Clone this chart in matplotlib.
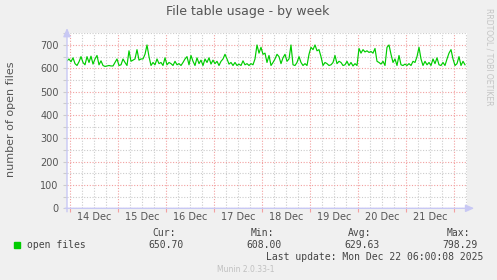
# Munin style "File table usage - by week" graph, rebuilt with matplotlib.
import matplotlib
matplotlib.use("Agg")
import matplotlib.pyplot as plt
import matplotlib.dates as mdates
from matplotlib.ticker import MultipleLocator, NullFormatter
import pandas as pd

W, H = 497, 280

# Hourly samples (first sample 13 Dec 22:30)
open_files = [
    632, 640, 628, 645, 620, 612, 628, 650, 625, 615, 650, 625, 652, 618, 640, 655,
    615, 632, 612, 608, 610, 612, 610, 610, 625, 640, 612, 615, 640, 625, 612, 675,
    630, 635, 640, 680, 635, 640, 640, 660, 700, 650, 612, 625, 615, 640, 620, 625,
    612, 645, 615, 625,
    620, 612, 630, 615, 620, 612, 625, 640, 650, 615, 655, 630, 612, 645, 620, 635,
    612, 640, 625, 645, 618, 635, 620, 630, 612, 630, 640, 660, 640, 618, 625, 612,
    625, 612, 618, 612, 632, 615, 620, 612, 620, 615, 640, 700, 665, 690, 660, 665,
    625, 655,
    612, 625, 640, 660, 650, 620, 645, 660, 630, 640, 700, 615, 612, 625, 650, 625,
    612, 620, 612, 660, 690, 680, 700, 675, 680, 650, 612, 625, 620, 612, 615, 625,
    655, 620, 630, 625, 612, 615, 630, 612, 625, 610, 620, 612, 685, 665, 680, 670,
    675, 668,
    672, 665, 685, 630, 625, 618, 630, 612, 690, 700, 660, 625, 640, 612, 655, 615,
    612, 618, 612, 620, 612, 630, 625, 650, 690, 640, 612, 630, 615, 625, 612, 640,
    620, 645, 615, 612, 625, 612, 640, 665, 680, 640, 612, 620, 650, 612, 630, 615,
]
times = pd.date_range("2025-12-13 22:30", periods=len(open_files), freq="1h")

stat_labels = ["Cur:", "Min:", "Avg:", "Max:"]
stat_values = ["650.70", "608.00", "629.63", "798.29"]

BG = "#F0F0F0"
TXT = "#555555"
MAJOR = "#F2A0A0"
MINOR = "#CCCCCC"
AXIS = "#C8C8F4"
GREEN = "#00CC00"


def fx(px):
    return px / W


def fy(py):
    return 1 - py / H


fig = plt.figure(figsize=(W / 100, H / 100), dpi=100, facecolor=BG)
ax = fig.add_axes([fx(67), fy(208.3), 400 / W, 175 / H], facecolor="white")

ax.plot(times, open_files, color=GREEN, lw=0.85, zorder=5)

ax.set_xlim(pd.Timestamp("2025-12-13 22:30"), pd.Timestamp("2025-12-22 06:30"))
ax.set_ylim(0, 750)

# grid: red at day / 100, grey at 6h / 50
ax.xaxis.set_major_locator(mdates.DayLocator())
ax.xaxis.set_minor_locator(mdates.HourLocator(byhour=[6, 12, 18]))
ax.xaxis.set_major_formatter(NullFormatter())
ax.yaxis.set_major_locator(MultipleLocator(100))
ax.yaxis.set_minor_locator(MultipleLocator(50))
ax.grid(which="minor", color=MINOR, lw=0.8, ls=(0, (1, 1.5)))
ax.grid(which="major", color=MAJOR, lw=0.8, ls=(0, (1, 1.5)))
ax.set_axisbelow(True)

ax.tick_params(axis="x", which="major", length=3, color=MAJOR, width=0.8)
ax.tick_params(axis="x", which="minor", length=0)
ax.tick_params(axis="y", which="both", length=3, color=MINOR, width=0.8,
               labelsize=7, labelcolor=TXT, pad=3)

# day labels centred at noon
sec = ax.secondary_xaxis("bottom")
sec.xaxis.set_major_locator(mdates.HourLocator(byhour=[12]))
sec.xaxis.set_major_formatter(mdates.DateFormatter("%-d %b"))
sec.tick_params(length=0, labelsize=7, labelcolor=TXT, pad=3)

for s in ax.spines.values():
    s.set_visible(False)
sec.spines["bottom"].set_visible(False)

# axis lines with arrow heads
ax.annotate("", xy=(1.018, 0), xytext=(-0.005, 0), xycoords="axes fraction",
            arrowprops=dict(arrowstyle="-|>,head_length=0.5,head_width=0.22",
                            color=AXIS, lw=1.0, shrinkA=0, shrinkB=0),
            annotation_clip=False, zorder=6)
ax.annotate("", xy=(0, 1.03), xytext=(0, -0.02), xycoords="axes fraction",
            arrowprops=dict(arrowstyle="-|>,head_length=0.5,head_width=0.22",
                            color=AXIS, lw=1.0, shrinkA=0, shrinkB=0),
            annotation_clip=False, zorder=6)

fig.text(fx(248), fy(12), "File table usage - by week", ha="center", va="center",
         fontsize=9, color=TXT)
fig.text(fx(11), fy(119), "number of open files", ha="center", va="center",
         rotation=90, fontsize=8, color=TXT)
fig.text(fx(489), fy(57), "RRDTOOL / TOBI OETIKER", ha="center", va="center",
         rotation=270, fontsize=5.5, color="#C4C4C4")

# legend row
mono = "DejaVu Sans Mono"
fig.patches.append(plt.Rectangle((fx(14), fy(248)), 6 / W, 6 / H,
                                 transform=fig.transFigure, color=GREEN))
fig.text(fx(27), fy(245.5), "open files", ha="left", va="center",
         fontsize=7, color="#444444", family=mono)
for i, (lab, val) in enumerate(zip(stat_labels, stat_values)):
    right = 184 + i * 97.9
    fig.text(fx(right - 8), fy(233), lab, ha="right", va="center",
             fontsize=7, color="#444444", family=mono)
    fig.text(fx(right), fy(245.5), val, ha="right", va="center",
             fontsize=7, color="#444444", family=mono)
fig.text(fx(483.5), fy(257.5), "Last update: Mon Dec 22 06:00:08 2025",
         ha="right", va="center", fontsize=7, color="#444444", family=mono)
fig.text(fx(246), fy(269), "Munin 2.0.33-1", ha="center", va="center",
         fontsize=5.5, color="#C0C0C0")

fig.savefig("out.png", dpi=100, facecolor=BG)
